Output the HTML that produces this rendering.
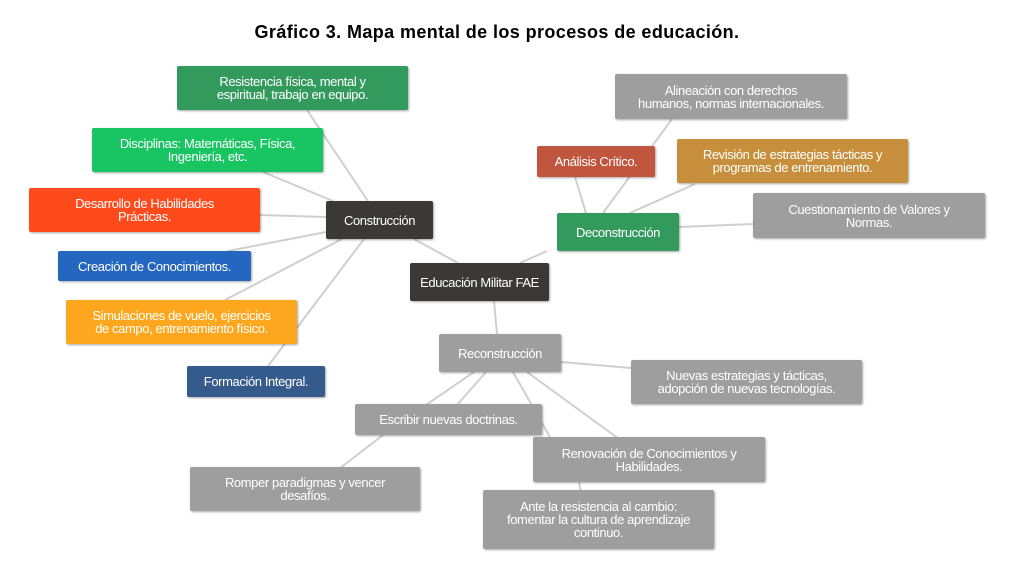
<!DOCTYPE html>
<html><head><meta charset="utf-8"><style>
body{margin:0;width:1026px;height:576px;background:#fff;position:relative;overflow:hidden;font-family:"Liberation Sans",Arial,sans-serif}
.t{position:absolute;left:0;width:994px;top:22px;text-align:center;font-weight:bold;font-size:18px;letter-spacing:0.4px;color:#000}
.b{position:absolute;color:#fff;font-size:13px;line-height:13px;letter-spacing:-0.4px;white-space:nowrap;display:flex;align-items:center;justify-content:center;text-align:center;border-radius:2px;box-shadow:1px 1px 2px rgba(0,0,0,.35);box-sizing:border-box;padding:0 4px}
.g{background:#9e9e9e}
svg{position:absolute;left:0;top:0}
</style></head><body>
<div class="t">Gráfico 3. Mapa mental de los procesos de educación.</div>
<svg width="1026" height="576"><g stroke="#cfcfcf" stroke-width="2" fill="none">
<line x1="307" y1="110" x2="368" y2="201"/>
<line x1="263" y1="172" x2="333" y2="201"/>
<line x1="260" y1="215" x2="326" y2="217"/>
<line x1="228" y1="251" x2="326" y2="232"/>
<line x1="225" y1="300" x2="342" y2="239"/>
<line x1="268" y1="366" x2="364" y2="239"/>
<line x1="414" y1="239" x2="458" y2="263"/>
<line x1="494" y1="301" x2="497" y2="334"/>
<line x1="520" y1="263" x2="547" y2="251"/>
<line x1="575" y1="177" x2="586" y2="213"/>
<line x1="695" y1="184" x2="630" y2="213"/>
<line x1="672" y1="119" x2="603" y2="213"/>
<line x1="753" y1="224" x2="679" y2="227"/>
<line x1="561" y1="362" x2="631" y2="368"/>
<line x1="474" y1="372" x2="426" y2="405"/>
<line x1="486" y1="372" x2="457" y2="405"/>
<line x1="513" y1="372" x2="551" y2="439"/>
<line x1="527" y1="372" x2="619" y2="439"/>
<line x1="383" y1="435" x2="339" y2="469"/>
<line x1="579" y1="482" x2="581" y2="492"/>
</g></svg>
<div class="b" style="left:177px;top:66px;width:231px;height:44px;background:#339a5e">Resistencia física, mental y<br>espiritual, trabajo en equipo.</div>
<div class="b" style="left:92px;top:128px;width:231px;height:44px;background:#19c463">Disciplinas: Matemáticas, Física,<br>Ingeniería, etc.</div>
<div class="b" style="left:29px;top:188px;width:231px;height:44px;background:#ff4a1c">Desarrollo de Habilidades<br>Prácticas.</div>
<div class="b" style="left:58px;top:251px;width:193px;height:30px;background:#2566c0">Creación de Conocimientos.</div>
<div class="b" style="left:66px;top:300px;width:231px;height:44px;background:#fda71e">Simulaciones de vuelo, ejercicios<br>de campo, entrenamiento físico.</div>
<div class="b" style="left:187px;top:366px;width:138px;height:31px;background:#355b8d">Formación Integral.</div>
<div class="b" style="left:326px;top:201px;width:107px;height:38px;background:#3c3838">Construcción</div>
<div class="b" style="left:410px;top:263px;width:139px;height:38px;background:#3c3838">Educación Militar FAE</div>
<div class="b g" style="left:439px;top:334px;width:122px;height:38px">Reconstrucción</div>
<div class="b" style="left:557px;top:213px;width:122px;height:38px;background:#339a5e">Deconstrucción</div>
<div class="b" style="left:537px;top:146px;width:118px;height:31px;background:#c0563e">Análisis Crítico.</div>
<div class="b" style="left:677px;top:139px;width:231px;height:44px;background:#c78f3c">Revisión de estrategias tácticas y<br>programas de entrenamiento.</div>
<div class="b g" style="left:615px;top:74px;width:232px;height:45px">Alineación con derechos<br>humanos, normas internacionales.</div>
<div class="b g" style="left:753px;top:193px;width:232px;height:45px">Cuestionamiento de Valores y<br>Normas.</div>
<div class="b g" style="left:631px;top:360px;width:231px;height:44px">Nuevas estrategias y tácticas,<br>adopción de nuevas tecnologías.</div>
<div class="b g" style="left:355px;top:404px;width:187px;height:31px">Escribir nuevas doctrinas.</div>
<div class="b g" style="left:533px;top:437px;width:232px;height:45px">Renovación de Conocimientos y<br>Habilidades.</div>
<div class="b g" style="left:190px;top:467px;width:230px;height:44px">Romper paradigmas y vencer<br>desafíos.</div>
<div class="b g" style="left:483px;top:490px;width:231px;height:59px">Ante la resistencia al cambio:<br>fomentar la cultura de aprendizaje<br>continuo.</div>
</body></html>
